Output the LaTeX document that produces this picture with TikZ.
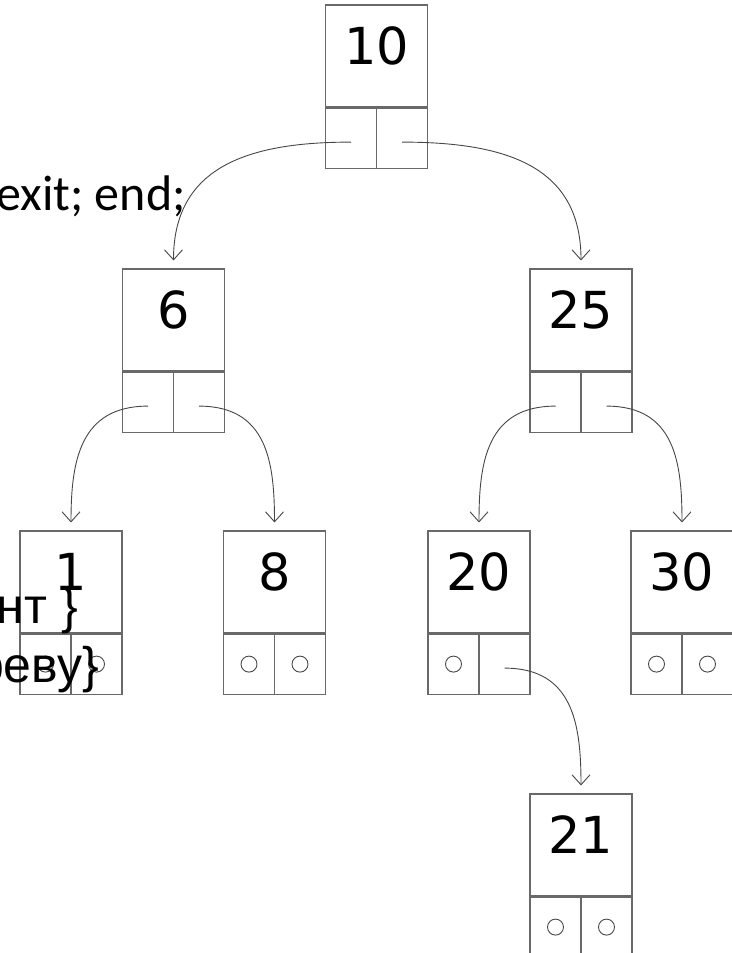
\documentclass[tikz,border=0pt]{standalone}
\usepackage{fontspec}
\newfontfamily\numfont{DejaVu Sans}
\newfontfamily\slidefont{Carlito}
\newfontfamily\cyrfont{Liberation Sans}
\usetikzlibrary{positioning,arrows.meta}
\definecolor{boxgray}{RGB}{105,105,105}
\definecolor{linkgray}{RGB}{70,70,70}
\tikzset{
  valbox/.style={draw=boxgray,line width=1.1pt,minimum width=102pt,minimum height=102pt,
    inner sep=0pt,text height=37pt,text depth=20pt,font=\numfont\fontsize{51}{51}\selectfont},
  cellbox/.style={draw=boxgray,line width=1.1pt,minimum width=51pt,minimum height=60pt,inner sep=0pt},
  nilring/.style={draw=linkgray,line width=0.9pt},
  link/.style={draw=linkgray,line width=0.9pt,-{Straight Barb[length=10pt,width=18pt]},
    shorten >=8pt,looseness=1.2},
  slidetext/.style={inner sep=0pt,font=\slidefont\fontsize{50}{50}\selectfont},
  cyrtext/.style={inner sep=0pt,font=\cyrfont\fontsize{50}{50}\selectfont}
}
% one record of the tree: value box and two pointer cells
\newcommand{\treerec}[4]{%
  \node[valbox] (#1) at (#2,#3) {#4};
  \node[cellbox,below right=0pt of #1.south west] (#1l) {};
  \node[cellbox,below left=0pt of #1.south east] (#1r) {};
}
\begin{document}
\begin{tikzpicture}[x=1pt,y=-1pt]
  \useasboundingbox (0,0) rectangle (731,953);
  \treerec{n10}{376.5}{56}{10}
  \treerec{n6}{173.5}{320}{6}
  \treerec{n25}{581}{320}{25}
  \treerec{n1}{71}{582}{1}
  \treerec{n8}{274.5}{582}{8}
  \treerec{n20}{479}{582}{20}
  \treerec{n30}{682}{582}{30}
  \treerec{n21}{581}{845}{21}
  % empty pointers
  \foreach \c in {n1l,n1r,n8l,n8r,n20l,n30l,n30r,n21l,n21r}
    \draw[nilring] (\c.center) circle[radius=8pt];
  % pointers
  \draw[link] ([yshift=-4pt]n10l.center) to[out=180,in=90] (n6.north);
  \draw[link] ([yshift=-4pt]n10r.center) to[out=0,in=90] (n25.north);
  \draw[link] ([yshift=-4pt]n6l.center) to[out=180,in=90] (n1.north);
  \draw[link] ([yshift=-4pt]n6r.center) to[out=0,in=90] (n8.north);
  \draw[link] ([yshift=-4pt]n25l.center) to[out=180,in=90] (n20.north);
  \draw[link] ([yshift=-4pt]n25r.center) to[out=0,in=90] (n30.north);
  \draw[link] ([yshift=-4pt]n20r.center) to[out=0,in=90] (n21.north);
  % text left over from the slide
  \node[slidetext,anchor=base east] (exittxt) at (186,210) {exit; end;};
  \node[cyrtext,anchor=base east] (nttxt) at (78,623) {нт \}};
  \node[cyrtext,anchor=base east] (revtxt) at (99,682) {реву\}};
\end{tikzpicture}
\end{document}
